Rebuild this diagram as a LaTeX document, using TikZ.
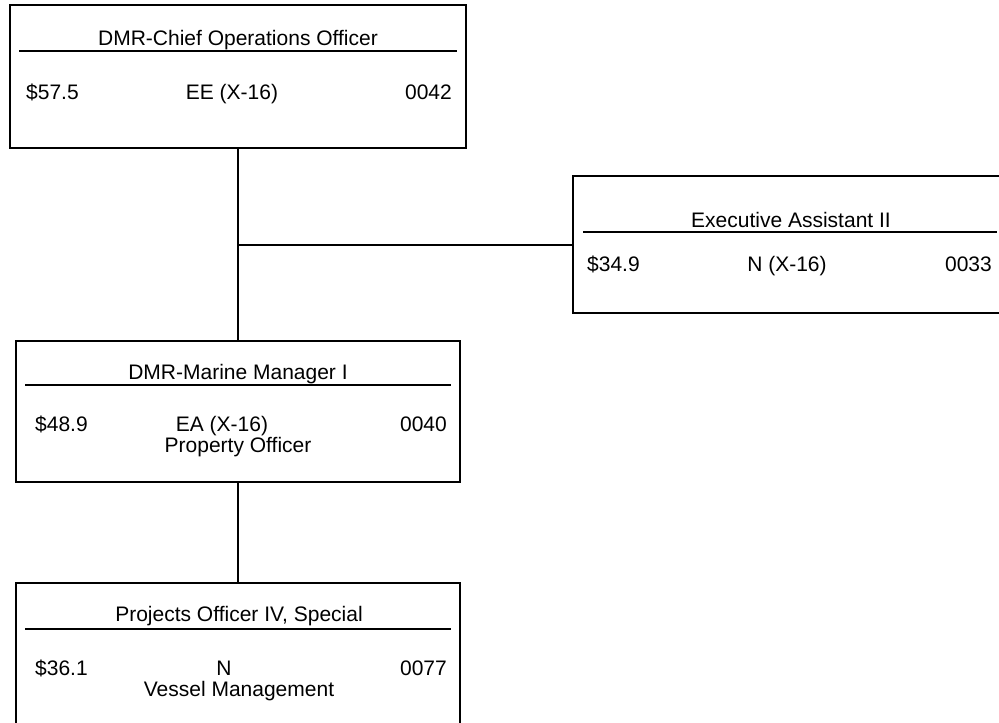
\documentclass[tikz,border=0pt]{standalone}
\usepackage{fontspec}
\setmainfont{Liberation Sans}
\usetikzlibrary{positioning}

\begin{document}
\begin{tikzpicture}[x=1pt, y=-1pt,
    post/.style={draw, line width=2pt, inner sep=0pt},
    rule/.style={line width=2pt},
    link/.style={line width=2pt},
    txt/.style={font=\fontsize{21}{22}\selectfont, inner sep=0pt,
      text height=15pt, text depth=3pt, anchor=base}
    ]
    \clip (0,0) rectangle (999,723);

    % boxes
    \node[post, minimum width=456pt, minimum height=143pt] (coo) at (238,76.5) {};
    \node[post, minimum width=435pt, minimum height=137pt] (ea) at (790.5,244.5) {};
    \node[post, minimum width=444pt, minimum height=141pt] (mgr) at (238,411.5) {};
    \node[post, minimum width=444pt, minimum height=143pt] (proj) at (238,654.5) {};

    % Chief Operations Officer
    \node[txt] (coot) at (238,45.5) {DMR-Chief Operations Officer};
    \draw[rule] (19,51) -- (457,51);
    \node[txt, anchor=base west] (coos) at (26,99) {\$57.5};
    \node[txt] (coog) at (232,99) {EE (X-16)};
    \node[txt, anchor=base east] (coon) at (452,99) {0042};

    % Executive Assistant
    \node[txt] (eat) at (791,227.5) {Executive Assistant II};
    \draw[rule] (583,232) -- (997,232);
    \node[txt, anchor=base west] (eas) at (587,271) {\$34.9};
    \node[txt] (eag) at (787,271) {N (X-16)};
    \node[txt, anchor=base east] (ean) at (992,271) {0033};

    % Marine Manager
    \node[txt] (mgrt) at (238,379.5) {DMR-Marine Manager I};
    \draw[rule] (25,385) -- (451,385);
    \node[txt, anchor=base west] (mgrs) at (35,431) {\$48.9};
    \node[txt] (mgrg) at (222,431) {EA (X-16)};
    \node[txt, anchor=base east] (mgrn) at (447,431) {0040};
    \node[txt] (mgru) at (238,452.5) {Property Officer};

    % Projects Officer
    \node[txt] (projt) at (239,621) {Projects Officer IV, Special};
    \draw[rule] (25,629) -- (451,629);
    \node[txt, anchor=base west] (projs) at (35,675.5) {\$36.1};
    \node[txt] (projg) at (224,675.5) {N};
    \node[txt, anchor=base east] (projn) at (447,675.5) {0077};
    \node[txt] (proju) at (239,696.5) {Vessel Management};

    % connectors
    \draw[link] (coo.south) -- (mgr.north);
    \draw[link] (ea.west) -- (ea.west -| coo.south);
    \draw[link] (mgr.south) -- (proj.north);
\end{tikzpicture}
\end{document}
